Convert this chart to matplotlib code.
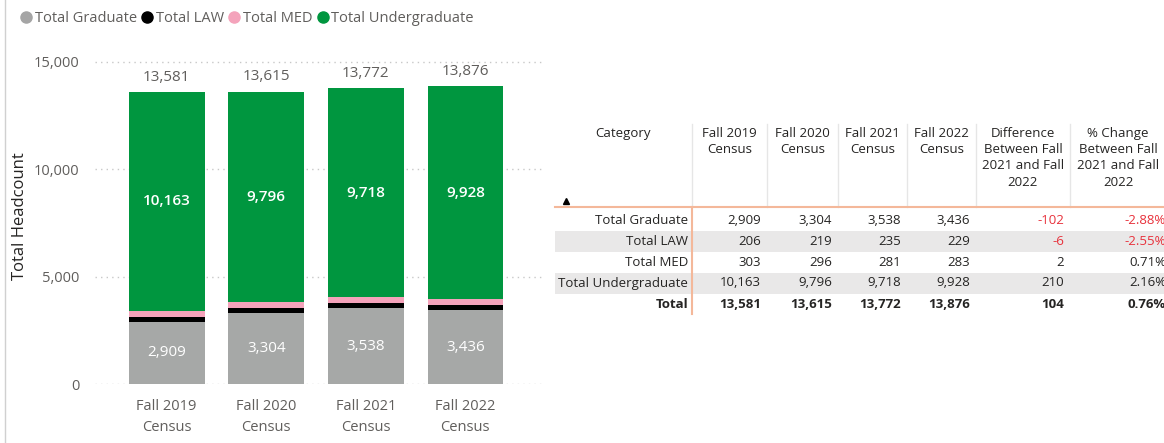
import numpy as np
import matplotlib.pyplot as plt
from matplotlib.lines import Line2D
from matplotlib.patches import Rectangle

plt.rcParams['font.family'] = ['Open Sans', 'DejaVu Sans']

# data
terms = ["Fall 2019\nCensus", "Fall 2020\nCensus", "Fall 2021\nCensus", "Fall 2022\nCensus"]
series = ["Total Graduate", "Total LAW", "Total MED", "Total Undergraduate"]
graduate = [2909, 3304, 3538, 3436]
law = [206, 219, 235, 229]
med = [303, 296, 281, 283]
undergrad = [10163, 9796, 9718, 9928]

colors = ["#A6A8A7", "#000000", "#F4A3BB", "#00963F"]
legend_colors = ["#A5A5A5", "#000000", "#F4A3BB", "#00963F"]
text_gray = "#605E5C"

fig = plt.figure(figsize=(11.64, 4.43), dpi=100)

# ---- stacked bar chart ----
ax = fig.add_axes([95 / 1164, 59 / 443, 450 / 1164, 335 / 443])
x = np.arange(len(terms))
vals = [graduate, law, med, undergrad]
bottom = np.zeros(len(terms))
for v, c in zip(vals, colors):
    ax.bar(x, v, width=0.76, bottom=bottom, color=c, zorder=3)
    bottom += np.array(v)
totals = bottom

for i in range(len(terms)):
    ax.text(x[i], graduate[i] / 2, f"{graduate[i]:,}", ha="center", va="center",
            color="white", fontsize=11, zorder=4)
    ub = graduate[i] + law[i] + med[i]
    ax.text(x[i], ub + undergrad[i] / 2, f"{undergrad[i]:,}", ha="center", va="center",
            color="white", fontsize=11, fontweight="semibold", zorder=4)
    ax.text(x[i], totals[i] + 350, f"{int(totals[i]):,}", ha="center", va="bottom",
            color=text_gray, fontsize=11, zorder=4)

ax.set_xlim(-0.72, 3.8)
ax.set_ylim(0, 15600)
ax.set_yticks([0, 5000, 10000, 15000])
ax.set_yticklabels(["0", "5,000", "10,000", "15,000"])
ax.set_xticks(x)
ax.set_xticklabels(terms, linespacing=1.5)
ax.tick_params(length=0, labelsize=10.5, colors=text_gray)
ax.tick_params(axis="y", pad=11)
ax.tick_params(axis="x", pad=11)
ax.grid(axis="y", color="#C8C8C8", linestyle=(0, (1, 3)), linewidth=1, zorder=0)
for s in ax.spines.values():
    s.set_visible(False)
ax.set_ylabel("Total Headcount", fontsize=12, color="#252423")
ax.yaxis.set_label_coords(-0.148, 0.5)

handles = [Line2D([], [], marker="o", linestyle="none", markersize=8,
                  markerfacecolor=c, markeredgecolor=c) for c in legend_colors]
fig.legend(handles, series, loc="upper left", bbox_to_anchor=(0.006, 1.005), ncol=4,
           frameon=False, handletextpad=0.2, columnspacing=0.3, handlelength=0.8,
           prop={"size": 10.5}, labelcolor=text_gray)

# ---- table ----
tx = fig.add_axes([0, 0, 1, 1])
tx.set_xlim(0, 1164)
tx.set_ylim(443, 0)
tx.axis("off")

# left border of the visual
tx.plot([5, 5], [0, 443], color="#D0D0D0", lw=1)

col_heads = ["Fall 2019\nCensus", "Fall 2020\nCensus", "Fall 2021\nCensus", "Fall 2022\nCensus",
             "Difference\nBetween Fall\n2021 and Fall\n2022",
             "% Change\nBetween Fall\n2021 and Fall\n2022"]
seps = [692, 767, 838, 907, 976, 1070, 1164]
row_y = [220, 241, 262, 283, 304]
table_text = "#252423"
red = "#E8323C"

tx.text((555 + 692) / 2, 127, "Category", ha="center", va="top", fontsize=9.5, color=table_text)
for j, h in enumerate(col_heads):
    tx.text((seps[j] + seps[j + 1]) / 2 + (1 if j == 5 else 0), 127, h, ha="center", va="top",
            fontsize=9.5, color=table_text, linespacing=1.32)
for s in seps[:-1]:
    tx.plot([s, s], [124, 207], color="#E6E6E6", lw=1)
tx.plot([566], [201], marker="^", color="black", markersize=5)

# shaded rows
for r in (1, 3):
    tx.add_patch(Rectangle((555, row_y[r] - 10.5), 1164 - 555, 21, color="#E9E8E8", lw=0, zorder=0))
tx.plot([555, 1164], [207, 207], color="#F4B89A", lw=1.5)
tx.plot([692, 692], [207, 314], color="#F4B89A", lw=1.5)

table_vals = [graduate, law, med, undergrad]
for r, name in enumerate(series + ["Total"]):
    if r < 4:
        v = [table_vals[r][k] for k in range(4)]
    else:
        v = [int(t) for t in totals]
    diff = v[3] - v[2]
    pct = diff / v[2] * 100
    bold = "bold" if r == 4 else "normal"
    tx.text(688, row_y[r], name, ha="right", va="center", fontsize=9.5, color=table_text,
            fontweight=bold)
    for k in range(4):
        tx.text(seps[k + 1] - 6, row_y[r], f"{v[k]:,}", ha="right", va="center",
                fontsize=9.5, color=table_text, fontweight=bold)
    c = red if diff < 0 else table_text
    tx.text(1064, row_y[r], f"{diff:,}", ha="right", va="center", fontsize=9.5, color=c,
            fontweight=bold)
    tx.text(1166, row_y[r], f"{pct:.2f}%", ha="right", va="center", fontsize=9.5, color=c,
            fontweight=bold)

fig.savefig("out.png", dpi=100)
